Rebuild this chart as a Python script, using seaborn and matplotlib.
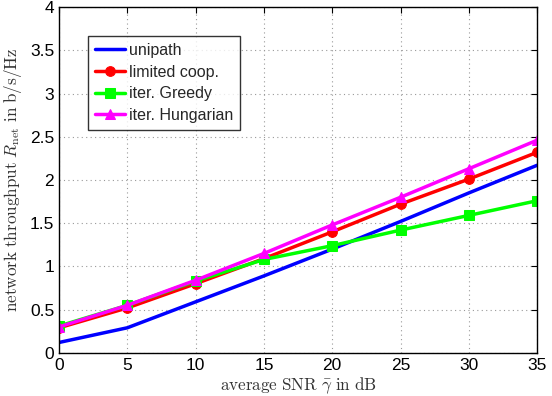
import matplotlib
matplotlib.use("Agg")
import matplotlib.pyplot as plt
import seaborn as sns
import pandas as pd

snr_db = [0, 5, 10, 15, 20, 25, 30, 35]
unipath = [0.12, 0.29, 0.59, 0.89, 1.20, 1.52, 1.85, 2.17]
limited_coop = [0.29, 0.52, 0.80, 1.09, 1.40, 1.72, 2.01, 2.32]
iter_greedy = [0.31, 0.55, 0.83, 1.08, 1.24, 1.42, 1.59, 1.76]
iter_hungarian = [0.30, 0.55, 0.84, 1.15, 1.48, 1.80, 2.13, 2.46]

series_names = ["unipath", "limited coop.", "iter. Greedy", "iter. Hungarian"]
series_vals = [unipath, limited_coop, iter_greedy, iter_hungarian]
colors = ["#0000ff", "#ff0000", "#00ff00", "#ff00ff"]
markers = [None, "o", "s", "^"]

sns.set_style("white")
plt.rcParams["font.family"] = ["Liberation Sans", "DejaVu Sans"]
plt.rcParams["mathtext.fontset"] = "cm"

fig = plt.figure(figsize=(5.52, 3.96), dpi=100)
ax = fig.add_axes([0.107, 0.109, 0.866, 0.873])

for name, vals, c, m in zip(series_names, series_vals, colors, markers):
    df = pd.DataFrame({"x": snr_db, "y": vals})
    kw = dict(marker=m, markersize=7, markeredgecolor=c, markerfacecolor=c) if m else {}
    sns.lineplot(data=df, x="x", y="y", ax=ax, color=c, linewidth=2.5, label=name, **kw)

ax.set_xlim(0, 35)
ax.set_ylim(0, 4)
ax.set_xticks(range(0, 36, 5))
ax.set_yticks([0, 0.5, 1, 1.5, 2, 2.5, 3, 3.5, 4])
ax.set_yticklabels(["0", "0.5", "1", "1.5", "2", "2.5", "3", "3.5", "4"])
ax.tick_params(direction="in", length=4, labelsize=12.5, colors="black", top=True, right=True)
ax.grid(True, linestyle=(0, (1, 3)), color="#999999", linewidth=0.8)
for s in ax.spines.values():
    s.set_color("black")
    s.set_linewidth(1.0)

ax.set_xlabel(r"$\mathrm{average\ SNR\ }\bar{\gamma}\mathrm{\ in\ dB}$", fontsize=12.3, color="#333333", labelpad=2)
ax.set_ylabel(r"$\mathrm{network\ throughput\ }R_{\mathrm{net}}\mathrm{\ in\ b/s/Hz}$", fontsize=12.3, color="#333333", labelpad=4)

leg = ax.legend(loc="upper left", bbox_to_anchor=(0.061, 0.916), fontsize=11.5, frameon=True,
                fancybox=False, edgecolor="black", handlelength=1.9, handletextpad=0.25,
                borderpad=0.42, labelspacing=0.42, borderaxespad=0)
leg.get_frame().set_linewidth(1.0)

fig.savefig("out.png", dpi=100)
